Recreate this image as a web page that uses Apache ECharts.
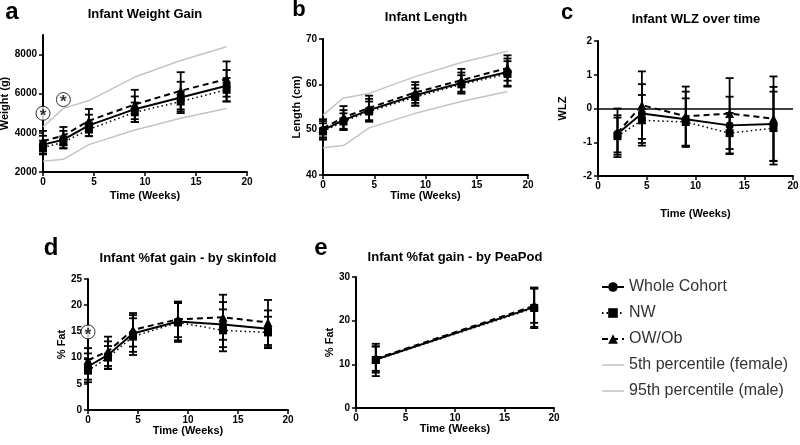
<!DOCTYPE html>
<html>
<head>
<meta charset="utf-8">
<script src="https://cdn.jsdelivr.net/npm/echarts@6/dist/echarts.min.js"></script>
<style>
  html, body { margin: 0; background: #fff; }
  #chart { width: 800px; height: 445px; }
</style>
</head>
<body>
<div id="chart"></div>
<script>
// time points (weeks)
var weeks = [0, 2, 4.5, 9, 13.5, 18];
var weeksWLZ = [2, 4.5, 9, 13.5, 18];
var weeksPea = [2, 18];

// a - weight (g)
var weightWhole = [3400, 3650, 4380, 5210, 5810, 6410];
var weightNW = [3250, 3520, 4180, 5050, 5600, 6200];
var weightOW = [3580, 3850, 4620, 5450, 6150, 6750];
var weightWholeSd = [450, 450, 550, 650, 800, 800];
var weightNWSd = [350, 300, 350, 500, 500, 600];
var weightOWSd = [520, 450, 600, 750, 950, 900];
var weightP5 = [2550, 2650, 3400, 4150, 4750, 5250];
var weightP95 = [4300, 5250, 5650, 6850, 7700, 8400];
var weightStars = [[0, 5000], [2, 5700]];

// b - length (cm)
var lengthWhole = [49.9, 52.1, 54.3, 57.6, 60.3, 62.7];
var lengthNW = [49.6, 51.8, 54.0, 57.2, 60.0, 62.3];
var lengthOW = [50.3, 52.7, 54.8, 58.2, 60.9, 63.6];
var lengthWholeSd = [2.0, 2.2, 2.5, 2.3, 2.3, 3.0];
var lengthNWSd = [1.8, 1.8, 2.2, 1.9, 2.0, 2.8];
var lengthOWSd = [2.0, 2.5, 2.7, 2.3, 2.5, 2.8];
var lengthP5 = [46, 46.5, 50.4, 53.6, 56.2, 58.4];
var lengthP95 = [53.2, 57, 58, 61.7, 64.8, 67.3];

// c - WLZ
var wlzWhole = [-0.75, -0.15, -0.32, -0.5, -0.46];
var wlzNW = [-0.82, -0.35, -0.4, -0.73, -0.58];
var wlzOW = [-0.72, 0.1, -0.23, -0.15, -0.3];
var wlzWholeSd = [0.55, 0.87, 0.82, 0.85, 1.1];
var wlzNWSd = [0.55, 0.75, 0.7, 0.6, 1.08];
var wlzOWSd = [0.72, 1.0, 0.88, 1.05, 1.25];

// d - %fat by skinfold
var fatSkinWhole = [8.3, 10.5, 14.6, 16.9, 16.3, 15.5];
var fatSkinNW = [7.5, 10.0, 14.0, 16.7, 15.2, 14.8];
var fatSkinOW = [9.5, 11.2, 15.3, 17.3, 17.7, 16.7];
var fatSkinWholeSd = [2.5, 2.6, 3.5, 3.6, 4.3, 3.5];
var fatSkinNWSd = [2.2, 2.2, 3.5, 3.7, 4.0, 3.0];
var fatSkinOWSd = [2.3, 2.8, 3.2, 3.4, 4.3, 4.3];
var fatSkinStars = [[0, 14.9]];

// e - %fat by PeaPod
var fatPeaWhole = [11.1, 23.1];
var fatPeaNW = [11.0, 22.9];
var fatPeaOW = [11.3, 23.4];
var fatPeaWholeSd = [3.0, 4.5];
var fatPeaNWSd = [3.7, 4.6];
var fatPeaOWSd = [2.8, 3.9];

var legendNames = ['Whole Cohort', 'NW', 'OW/Ob', '5th percentile (female)', '95th percentile (male)'];

var FONT = "'Liberation Sans', Arial, sans-serif";
var GREY = '#c4c4c4';

var myChart = echarts.init(document.getElementById('chart'));

function pairs(xs, ys) {
  return xs.map(function (x, i) { return [x, ys[i]]; });
}
function bars(xs, ys, sd) {
  return xs.map(function (x, i) { return [x, ys[i] - sd[i], ys[i] + sd[i]]; });
}

function renderErrorBar(params, api) {
  var x = api.value(0);
  var top = api.coord([x, api.value(2)]);
  var bot = api.coord([x, api.value(1)]);
  var w = 4;
  var st = { stroke: '#000', lineWidth: 1.8 };
  return {
    type: 'group',
    children: [
      { type: 'line', shape: { x1: top[0], y1: top[1], x2: bot[0], y2: bot[1] }, style: st },
      { type: 'line', shape: { x1: top[0] - w, y1: top[1], x2: top[0] + w, y2: top[1] }, style: st },
      { type: 'line', shape: { x1: bot[0] - w, y1: bot[1], x2: bot[0] + w, y2: bot[1] }, style: st }
    ]
  };
}

var groupStyle = [
  { name: 'Whole Cohort', symbol: 'circle', size: 8, type: 'solid', width: 2 },
  { name: 'NW', symbol: 'rect', size: 8, type: [1.5, 3], width: 1.5 },
  { name: 'OW/Ob', symbol: 'triangle', size: 9, type: [6, 4], width: 2 }
];

var series = [];
var barSeries = [];

function addPanel(idx, xs, vals, sds) {
  vals.forEach(function (v, g) {
    var s = groupStyle[g];
    series.push({
      type: 'line',
      name: s.name,
      xAxisIndex: idx, yAxisIndex: idx,
      data: pairs(xs, v),
      symbol: s.symbol,
      symbolSize: s.size,
      color: '#000',
      itemStyle: { color: '#000' },
      lineStyle: { color: '#000', width: s.width, type: s.type },
      z: 4
    });
    barSeries.push({
      type: 'custom',
      name: s.name + ' SD',
      xAxisIndex: idx, yAxisIndex: idx,
      renderItem: renderErrorBar,
      encode: { x: 0, y: [1, 2] },
      data: bars(xs, v, sds[g]),
      color: '#000',
      clip: false,
      silent: true,
      z: 3
    });
  });
}

function addPercentiles(idx, p5, p95) {
  [['5th percentile (female)', p5], ['95th percentile (male)', p95]].forEach(function (p) {
    series.push({
      type: 'line', name: p[0],
      xAxisIndex: idx, yAxisIndex: idx,
      data: pairs(weeks, p[1]), symbol: 'none', showSymbol: false,
      color: GREY,
      lineStyle: { color: GREY, width: 1.5 }, z: 2
    });
  });
}

function addStars(idx, pts) {
  barSeries.push({
    type: 'scatter', name: 'sig',
    xAxisIndex: idx, yAxisIndex: idx,
    data: pts, symbol: 'circle', symbolSize: 14,
    itemStyle: { color: '#fff', borderColor: '#000', borderWidth: 1 },
    label: { show: true, position: 'inside', formatter: '*', color: '#000',
             fontSize: 17, fontWeight: 'bold', fontFamily: FONT, offset: [0, 3] },
    silent: true, z: 6
  });
}

addPercentiles(0, weightP5, weightP95);
addPanel(0, weeks, [weightWhole, weightNW, weightOW], [weightWholeSd, weightNWSd, weightOWSd]);
addStars(0, weightStars);

addPercentiles(1, lengthP5, lengthP95);
addPanel(1, weeks, [lengthWhole, lengthNW, lengthOW], [lengthWholeSd, lengthNWSd, lengthOWSd]);

addPanel(2, weeksWLZ, [wlzWhole, wlzNW, wlzOW], [wlzWholeSd, wlzNWSd, wlzOWSd]);
// zero reference line for WLZ
barSeries.push({
  type: 'line', name: 'zero', xAxisIndex: 2, yAxisIndex: 2, data: [],
  markLine: { silent: true, symbol: 'none', label: { show: false },
              lineStyle: { color: '#000', width: 1.5, type: 'solid' },
              data: [{ yAxis: 0 }] }
});

addPanel(3, weeks, [fatSkinWhole, fatSkinNW, fatSkinOW], [fatSkinWholeSd, fatSkinNWSd, fatSkinOWSd]);
addStars(3, fatSkinStars);

addPanel(4, weeksPea, [fatPeaWhole, fatPeaNW, fatPeaOW], [fatPeaWholeSd, fatPeaNWSd, fatPeaOWSd]);

var grids = [
  { left: 43, top: 35, width: 204, height: 137 },
  { left: 323, top: 39, width: 205, height: 136 },
  { left: 598, top: 41, width: 195, height: 135 },
  { left: 88, top: 279, width: 200, height: 131 },
  { left: 356, top: 277, width: 198, height: 131 }
];
grids.forEach(function (g) { g.containLabel = false; g.outerBoundsMode = 'none'; });

var xNameGap = [18, 15, 32, 12, 12];
var xAxes = grids.map(function (g, i) {
  return {
    gridIndex: i, type: 'value', min: 0, max: 20, interval: 5,
    name: 'Time (Weeks)', nameLocation: 'middle', nameGap: xNameGap[i],
    nameTextStyle: { fontFamily: FONT, fontWeight: 'bold', fontSize: 11, color: '#000' },
    axisLine: { show: true, onZero: false, lineStyle: { color: '#000', width: 2 } },
    axisTick: { show: true, length: 4, lineStyle: { color: '#000', width: 1.5 } },
    axisLabel: { fontFamily: FONT, fontWeight: 'bold', fontSize: 10, color: '#000', margin: 5 },
    splitLine: { show: false }
  };
});

var yCfg = [
  { min: 2000, max: 9000, interval: 2000, name: 'Weight (g)', gap: 30 },
  { min: 40, max: 70, interval: 10, name: 'Length (cm)', gap: 20 },
  { min: -2, max: 2, interval: 1, name: 'WLZ', gap: 30 },
  { min: 0, max: 25, interval: 5, name: '% Fat', gap: 18 },
  { min: 0, max: 30, interval: 10, name: '% Fat', gap: 19 }
];
var yAxes = yCfg.map(function (c, i) {
  return {
    gridIndex: i, type: 'value', min: c.min, max: c.max, interval: c.interval,
    name: c.name, nameLocation: 'middle', nameGap: c.gap, nameRotate: 90,
    nameTextStyle: { fontFamily: FONT, fontWeight: 'bold', fontSize: 11, color: '#000' },
    axisLine: { show: true, onZero: false, lineStyle: { color: '#000', width: 2 } },
    axisTick: { show: true, length: 4, lineStyle: { color: '#000', width: 1.5 } },
    axisLabel: { fontFamily: FONT, fontWeight: 'bold', fontSize: 10, color: '#000', margin: 6,
                 showMaxLabel: i !== 0,
                 formatter: function (v) { return String(v); } },
    splitLine: { show: false }
  };
});

function txt(text, x, y, size) {
  return {
    type: 'text', x: x, y: y, silent: true,
    style: { text: text, fill: '#000', font: 'bold ' + size + 'px ' + FONT,
             align: 'center', verticalAlign: 'middle' }
  };
}

var lineIcon = 'path://M0,0 L22,0 L22,1.6 L0,1.6 Z';

var option = {
  animation: false,
  backgroundColor: '#fff',
  grid: grids,
  xAxis: xAxes,
  yAxis: yAxes,
  legend: {
    data: [
      { name: legendNames[0] },
      { name: legendNames[1] },
      { name: legendNames[2] },
      { name: legendNames[3], icon: lineIcon },
      { name: legendNames[4], icon: lineIcon }
    ],
    orient: 'vertical',
    left: 596, top: 274,
    itemWidth: 22, itemHeight: 12, itemGap: 10,
    textStyle: { fontFamily: FONT, fontSize: 16, color: '#333' },
    selectedMode: false
  },
  graphic: [
    txt('a', 12, 12, 24), txt('Infant Weight Gain', 145, 14, 13),
    txt('b', 299, 10, 22), txt('Infant Length', 426, 17, 13),
    txt('c', 567, 13, 22), txt('Infant WLZ over time', 696, 19, 13),
    txt('d', 51, 248, 24), txt('Infant %fat gain - by skinfold', 188, 258, 13),
    txt('e', 321, 248, 24), txt('Infant %fat gain - by PeaPod', 455, 257, 13)
  ],
  series: series.concat(barSeries)
};

myChart.setOption(option);
</script>
</body>
</html>
